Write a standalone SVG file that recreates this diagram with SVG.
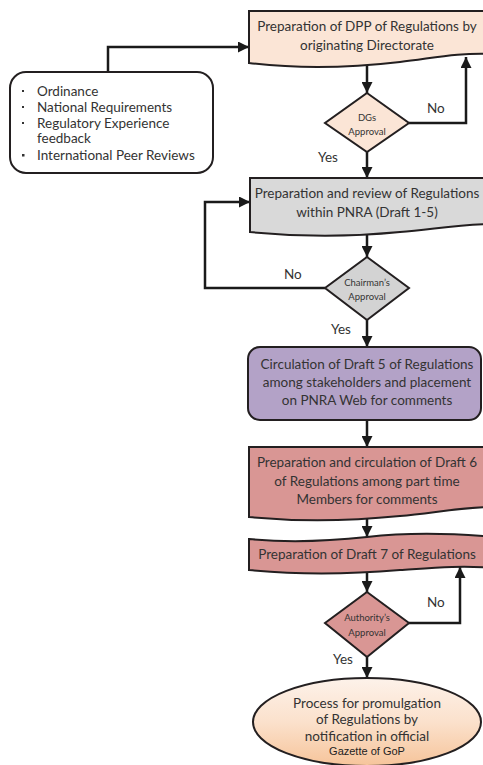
<svg xmlns="http://www.w3.org/2000/svg" width="483" height="765" viewBox="0 0 483 765">
<defs>
<marker id="ah" markerUnits="userSpaceOnUse" markerWidth="11" markerHeight="11" refX="10" refY="5" orient="auto" viewBox="0 0 10 10">
<path d="M0,0 L10,5 L0,10 Z" fill="#1a1a1a"/>
</marker>
<linearGradient id="eg" x1="0" y1="0" x2="0" y2="1">
<stop offset="0" stop-color="#fdf2ea"/>
<stop offset="0.5" stop-color="#fbe1cc"/>
<stop offset="1" stop-color="#f6c49a"/>
</linearGradient>
<style>
.sh{stroke:#231f20;stroke-width:2}
.t{font-family:Lato,"Liberation Sans",sans-serif;font-size:13.5px;fill:#333;text-anchor:middle}
.tl{font-family:Lato,"Liberation Sans",sans-serif;font-size:13.5px;fill:#333}
.ts{font-family:Lato,"Liberation Sans",sans-serif;font-size:9.5px;fill:#333;text-anchor:middle}
.c{fill:none;stroke:#1a1a1a;stroke-width:2.5;marker-end:url(#ah)}
</style>
</defs>
<g id="connectors">
<path class="c" d="M108,72 V47 H249"/>
<path class="c" d="M367,65 V93"/>
<path class="c" d="M409,123 H466 V57"/>
<path class="c" d="M367,152 V178"/>
<path class="c" d="M367,235 V257"/>
<path class="c" d="M325,288 H205 V202 H250"/>
<path class="c" d="M367,320 V347"/>
<path class="c" d="M367,420 V447"/>
<path class="c" d="M367,519 V537"/>
<path class="c" d="M367,571 V592"/>
<path class="c" d="M409,623 H460 V567"/>
<path class="c" d="M367,657 V678"/>
<text class="tl" x="427" y="113">No</text>
<text class="tl" x="318" y="162">Yes</text>
<text class="tl" x="284" y="279">No</text>
<text class="tl" x="331" y="334">Yes</text>
<text class="tl" x="427" y="607">No</text>
<text class="tl" x="333" y="664">Yes</text>
</g>
<g id="sources">
<rect class="sh" x="10" y="72" width="203" height="101" rx="16" fill="#fff"/>
<rect x="22" y="90" width="2" height="2" fill="#333"/>
<rect x="22" y="106" width="2" height="2" fill="#333"/>
<rect x="22" y="122" width="2" height="2" fill="#333"/>
<rect x="22" y="154" width="2.5" height="2.5" fill="#333"/>
<text class="tl" x="37" y="96">Ordinance</text>
<text class="tl" x="37" y="112">National Requirements</text>
<text class="tl" x="37" y="128">Regulatory Experience</text>
<text class="tl" x="37" y="143">feedback</text>
<text class="tl" x="37" y="160">International Peer Reviews</text>
</g>
<g id="dpp">
<path class="sh" fill="#fbe5d6" d="M249,11 H495 V54 C455,52 430,59 400,62 C340,69 290,68 249,63 Z"/>
<text class="t" x="367" y="31">Preparation of DPP of Regulations by</text>
<text class="t" x="367" y="50">originating Directorate</text>
</g>
<g id="dg-approval">
<polygon class="sh" fill="#fbe5d6" points="367,93 409,123 367,152 325,123"/>
<text class="ts" x="367" y="121">DGs</text>
<text class="ts" x="367" y="135">Approval</text>
</g>
<g id="draft1-5">
<path class="sh" fill="#d9d9d9" d="M250,178 H495 V224 C460,224 430,230 400,232 C340,238 290,236 250,232 Z"/>
<text class="t" x="367" y="198">Preparation and review of Regulations</text>
<text class="t" x="367" y="217">within PNRA (Draft 1-5)</text>
</g>
<g id="chairman-approval">
<polygon class="sh" fill="#d3d3d3" points="367,257 409,288 367,320 325,288"/>
<text class="ts" x="367" y="286">Chairman’s</text>
<text class="ts" x="367" y="300">Approval</text>
</g>
<g id="draft5">
<rect class="sh" x="248" y="347" width="233" height="73" rx="12" fill="#b3a2c7"/>
<text class="t" x="367" y="369">Circulation of Draft 5 of Regulations</text>
<text class="t" x="367" y="387">among stakeholders and placement</text>
<text class="t" x="367" y="405">on PNRA Web for comments</text>
</g>
<g id="draft6">
<path class="sh" fill="#d99694" d="M249,447 H495 V507 C460,507 430,514 400,516 C340,522 290,521 249,517 Z"/>
<text class="t" x="367" y="467">Preparation and circulation of Draft 6</text>
<text class="t" x="367" y="486">of Regulations among part time</text>
<text class="t" x="367" y="504">Members for comments</text>
</g>
<g id="draft7">
<path class="sh" fill="#d99694" d="M249,539 C290,543 330,541 367,537 C410,532 450,533 495,537 V568 C460,565 430,568 400,570 C340,575 290,574 249,570 Z"/>
<text class="t" x="367" y="559">Preparation of Draft 7 of Regulations</text>
</g>
<g id="authority-approval">
<polygon class="sh" fill="#d99694" points="367,592 409,623 367,657 325,623"/>
<text class="ts" x="367" y="621">Authority’s</text>
<text class="ts" x="367" y="636">Approval</text>
</g>
<g id="promulgation">
<ellipse class="sh" cx="367" cy="722" rx="114" ry="44" fill="url(#eg)"/>
<text class="t" x="367" y="708">Process for promulgation</text>
<text class="t" x="367" y="724">of Regulations by</text>
<text class="t" x="367" y="741">notification in official</text>
<text x="367" y="755" style="font-family:'Liberation Sans',Arial,sans-serif;font-size:11px;fill:#222;text-anchor:middle">Gazette of GoP</text>
</g>
</svg>
